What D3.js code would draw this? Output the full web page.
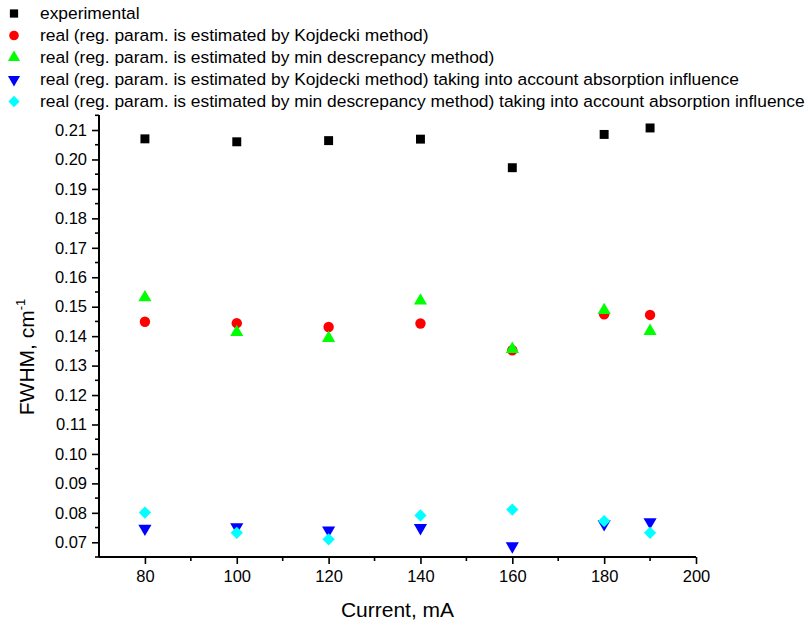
<!DOCTYPE html>
<html>
<head>
<meta charset="utf-8">
<script src="https://cdn.jsdelivr.net/npm/d3@7/dist/d3.min.js"></script>
<style>
  body { margin: 0; background: #fff; }
  svg { font-family: "Liberation Sans", Arial, sans-serif; }
</style>
</head>
<body>
<svg id="chart" width="811" height="626"></svg>
<script>
// Beam current, mA
const current = [80, 100, 120, 140, 160, 180, 190];

// FWHM values, cm^-1
const experimental   = [0.2070, 0.2060, 0.2064, 0.2069, 0.1972, 0.2085, 0.2107];
const kojdecki       = [0.1449, 0.1444, 0.1431, 0.1443, 0.1352, 0.1474, 0.1472];
const minDiscrepancy = [0.1531, 0.1413, 0.1393, 0.1520, 0.1356, 0.1488, 0.1417];
const kojdeckiAbs    = [0.0747, 0.0752, 0.0741, 0.0749, 0.0687, 0.0762, 0.0769];
const minDiscAbs     = [0.0801, 0.0732, 0.0710, 0.0791, 0.0811, 0.0772, 0.0732];

const xTicks = [80, 100, 120, 140, 160, 180, 200];
const yTicks = [0.07, 0.08, 0.09, 0.10, 0.11, 0.12, 0.13, 0.14, 0.15, 0.16, 0.17, 0.18, 0.19, 0.20, 0.21];

const seriesNames = [
  "experimental",
  "real (reg. param. is estimated by Kojdecki method)",
  "real (reg. param. is estimated by min descrepancy method)",
  "real (reg. param. is estimated by Kojdecki method) taking into account absorption influence",
  "real (reg. param. is estimated by min descrepancy method) taking into account absorption influence"
];

const series = [
  { name: seriesNames[0], values: experimental,   color: "#000000", symbol: d3.symbolSquare,   size: 80,  rot: 0 },
  { name: seriesNames[1], values: kojdecki,       color: "#ff0000", symbol: d3.symbolCircle,   size: 85,  rot: 0 },
  { name: seriesNames[2], values: minDiscrepancy, color: "#00ff00", symbol: d3.symbolTriangle, size: 75,  rot: 0 },
  { name: seriesNames[3], values: kojdeckiAbs,    color: "#0000ff", symbol: d3.symbolTriangle, size: 75,  rot: 180 },
  { name: seriesNames[4], values: minDiscAbs,     color: "#00ffff", symbol: d3.symbolSquare,   size: 75,  rot: 45 }
];

const svg = d3.select("#chart");
const plot = { left: 99, right: 696, top: 115, bottom: 557 };

const x = d3.scaleLinear().domain([70, 200]).range([plot.left, plot.right]);
const y = d3.scaleLinear().domain([0.065, 0.2151]).range([plot.bottom, plot.top]);

// Bottom axis with minor ticks between labelled ones
const xAxis = d3.axisBottom(x).tickValues(xTicks).tickSize(7).tickSizeOuter(0).tickPadding(6)
  .tickFormat(d3.format("d"));
const gx = svg.append("g").attr("transform", `translate(0,${plot.bottom})`).call(xAxis);
gx.select(".domain").attr("stroke-width", 2).attr("d", `M${plot.left},0H${plot.right}`);
gx.selectAll(".tick line").attr("stroke-width", 1.6);
gx.selectAll(".tick text").attr("font-size", 16.5).attr("fill", "#000");
const xMinor = d3.range(70, 201, 10).filter(v => !xTicks.includes(v) && v > 70);
gx.selectAll(".minor").data(xMinor).join("line")
  .attr("x1", d => x(d)).attr("x2", d => x(d)).attr("y1", 0).attr("y2", 4)
  .attr("stroke", "#000").attr("stroke-width", 1.6);

// Left axis
const yAxis = d3.axisLeft(y).tickValues(yTicks).tickSize(7).tickSizeOuter(0).tickPadding(5)
  .tickFormat(d3.format(".2f"));
const gy = svg.append("g").attr("transform", `translate(${plot.left},0)`).call(yAxis);
gy.select(".domain").attr("stroke-width", 2).attr("d", `M0,${plot.bottom}V${plot.top}`);
gy.selectAll(".tick line").attr("stroke-width", 1.6);
gy.selectAll(".tick text").attr("font-size", 16.5).attr("fill", "#000");
const yMinor = d3.range(0, 16).map(i => +(0.065 + i * 0.01).toFixed(3)).filter(v => v <= 0.2151);
gy.selectAll(".minor").data(yMinor).join("line")
  .attr("x1", 0).attr("x2", -4).attr("y1", d => y(d)).attr("y2", d => y(d))
  .attr("stroke", "#000").attr("stroke-width", 1.6);

// Axis titles
svg.append("text").attr("x", (plot.left + plot.right) / 2).attr("y", 617)
  .attr("text-anchor", "middle").attr("font-size", 21).text("Current, mA");

const yl = svg.append("text")
  .attr("transform", `translate(34,357) rotate(-90)`)
  .attr("text-anchor", "middle").attr("font-size", 21);
yl.append("tspan").text("FWHM, cm");
yl.append("tspan").attr("dy", -9).attr("font-size", 13).text("-1");

// Markers
series.forEach(s => {
  const sym = d3.symbol().type(s.symbol).size(s.size);
  svg.append("g").selectAll("path").data(current).join("path")
    .attr("d", sym)
    .attr("transform", (c, i) => `translate(${x(c)},${y(s.values[i])}) rotate(${s.rot})`)
    .attr("fill", s.color);
});

// Legend
const lg = svg.append("g");
series.forEach((s, i) => {
  const ly = 13.5 + i * 22;
  lg.append("path")
    .attr("d", d3.symbol().type(s.symbol).size(s.size * 0.85)())
    .attr("transform", `translate(14,${ly}) rotate(${s.rot})`)
    .attr("fill", s.color);
  lg.append("text").attr("x", 40).attr("y", ly + 5.5).attr("font-size", 17.4).text(s.name);
});
</script>
</body>
</html>
